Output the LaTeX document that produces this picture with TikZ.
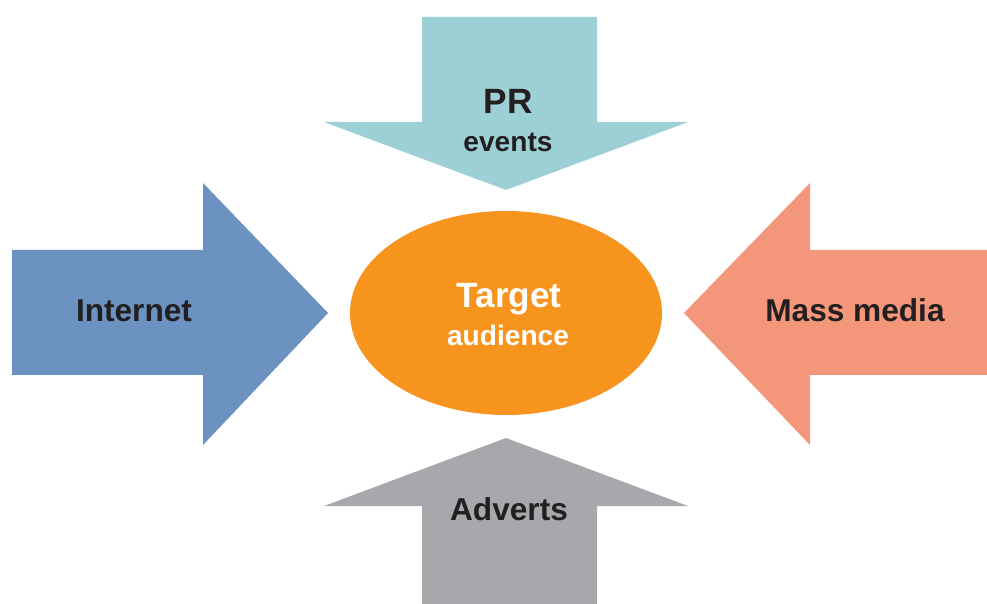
\documentclass[tikz,border=0pt]{standalone}
\usepackage{fontspec}
\setmainfont{Liberation Sans}
\begin{document}
\definecolor{prteal}{HTML}{9DD0D4}
\definecolor{netblue}{HTML}{6B92C0}
\definecolor{masssalmon}{HTML}{F4967A}
\definecolor{advgray}{HTML}{A7A8AC}
\definecolor{targetorange}{HTML}{F7941E}
\definecolor{labeldark}{HTML}{231F20}
\begin{tikzpicture}[x=0.02cm,y=-0.02cm,
  lbl/.style={anchor=base,inner sep=0pt,font=\bfseries\fontsize{18}{20}\selectfont,text=labeldark},
  biglbl/.style={lbl,font=\bfseries\fontsize{20}{22}\selectfont},
  smalllbl/.style={lbl,font=\bfseries\fontsize{16}{18}\selectfont}]
\useasboundingbox (0,0) rectangle (987,604);
% block arrows pointing at the centre
\fill[prteal] (422,17) -- (597,17) -- (597,122) -- (688,122) -- (506,190) -- (324,122) -- (422,122) -- cycle;
\fill[netblue] (12,250) -- (203,250) -- (203,183) -- (328,313) -- (203,445) -- (203,375) -- (12,375) -- cycle;
\fill[masssalmon] (987,250) -- (810,250) -- (810,183) -- (684,313) -- (810,445) -- (810,375) -- (987,375) -- cycle;
\fill[advgray] (422,604) -- (597,604) -- (597,506) -- (688,506) -- (506,438) -- (324,506) -- (422,506) -- cycle;
% central ellipse
\fill[targetorange] (506,313) ellipse [x radius=156, y radius=102];
% labels
\node[biglbl] (pr) at (508,114) {PR};
\node[smalllbl] (events) at (508,152) {events};
\node[biglbl,text=white] (target) at (509,308) {Target};
\node[smalllbl,text=white] (audience) at (508,346) {audience};
\node[lbl] (internet) at (134,322) {Internet};
\node[lbl] (mass) at (855,322) {Mass media};
\node[lbl] (adverts) at (509,520) {Adverts};
\end{tikzpicture}
\end{document}
